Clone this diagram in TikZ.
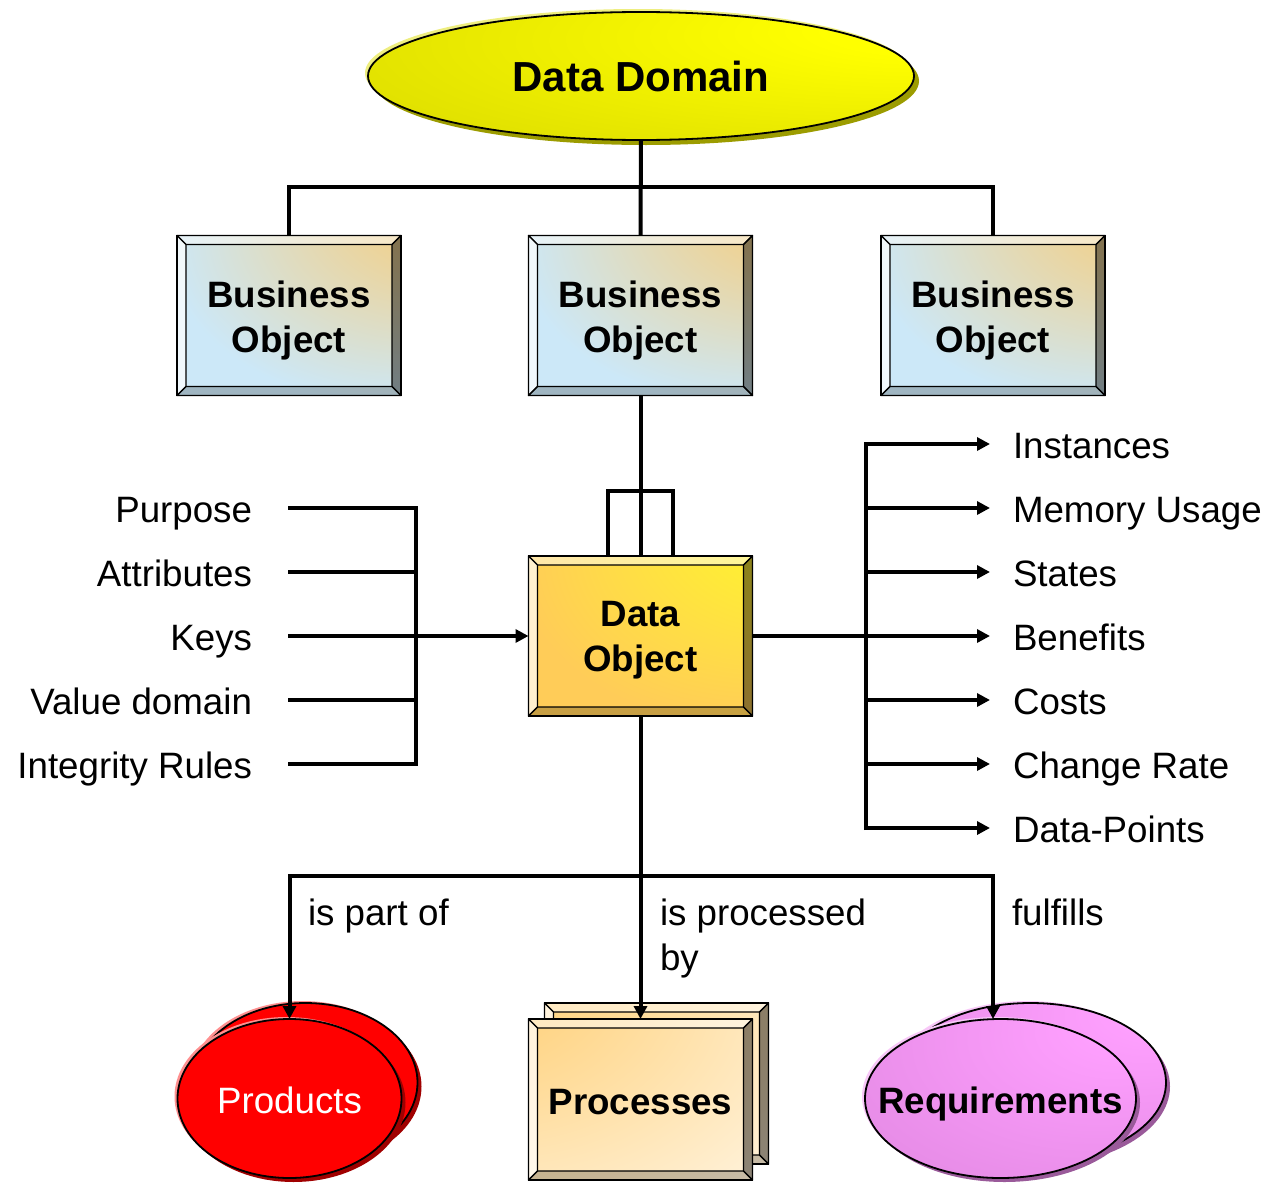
\documentclass[tikz,border=0pt]{standalone}
\usepackage{fontspec}
\setmainfont{Liberation Sans}
\usetikzlibrary{arrows.meta,shapes.geometric,shadows,calc}
\definecolor{boorange}{HTML}{FFC864}
\definecolor{boblue}{HTML}{CCE8F8}
\definecolor{doyellow}{HTML}{FFFF22}
\definecolor{doorange}{HTML}{FFCC58}
\definecolor{prorange}{HTML}{FFC860}
\definecolor{prwhite}{HTML}{FFFCF8}
\definecolor{ddbright}{HTML}{FFFF00}
\definecolor{dddark}{HTML}{C4C400}
\definecolor{ddsh}{HTML}{9C9C00}
\definecolor{ddhalo}{HTML}{EEEE80}
\definecolor{prodred}{HTML}{FF0000}
\definecolor{prodsh}{HTML}{A00000}
\definecolor{prodhalo}{HTML}{FF9090}
\definecolor{rqbright}{HTML}{FFA0FF}
\definecolor{rqdark}{HTML}{D880D8}
\definecolor{rqsh}{HTML}{9A5A9A}
\definecolor{rqhalo}{HTML}{F8C8F8}
\pgfdeclareradialshading{boshade}{\pgfpoint{45bp}{45bp}}{color(0bp)=(boorange); color(4bp)=(boorange); color(50bp)=(boblue); color(100bp)=(boblue)}
\pgfdeclareradialshading{doshade}{\pgfpoint{45bp}{45bp}}{color(0bp)=(doyellow); color(3bp)=(doyellow); color(50bp)=(doorange); color(100bp)=(doorange)}
\pgfdeclareradialshading{prshade}{\pgfpoint{-50bp}{50bp}}{color(0bp)=(prorange); color(4bp)=(prorange); color(90bp)=(prwhite); color(150bp)=(prwhite)}
\pgfdeclareradialshading{ddshade}{\pgfpoint{30bp}{20bp}}{color(0bp)=(ddbright); color(10bp)=(ddbright); color(80bp)=(dddark); color(100bp)=(dddark)}
\pgfdeclareradialshading{rqshade}{\pgfpoint{25bp}{25bp}}{color(0bp)=(rqbright); color(6bp)=(rqbright); color(70bp)=(rqdark); color(100bp)=(rqdark)}
\newcommand\rfont{\fontsize{36.7}{45}\selectfont}
\newcommand\bfont{\fontsize{36.7}{45}\selectfont\bfseries}
\newcommand\bevelit[1]{%
  \path[draw=black, line width=1.2pt, line join=round, fill=white, fill opacity=.5]
    (#1.north west) -- (#1.north east) -- ([shift={(-9pt,-9pt)}]#1.north east) -- ([shift={(9pt,-9pt)}]#1.north west) -- cycle;
  \path[draw=black, line width=1.2pt, line join=round, fill=white, fill opacity=.72]
    (#1.north west) -- ([shift={(9pt,-9pt)}]#1.north west) -- ([shift={(9pt,9pt)}]#1.south west) -- (#1.south west) -- cycle;
  \path[draw=black, line width=1.2pt, line join=round, fill=black, fill opacity=.45]
    (#1.north east) -- (#1.south east) -- ([shift={(-9pt,9pt)}]#1.south east) -- ([shift={(-9pt,-9pt)}]#1.north east) -- cycle;
  \path[draw=black, line width=1.2pt, line join=round, fill=black, fill opacity=.22]
    (#1.south west) -- (#1.south east) -- ([shift={(-9pt,9pt)}]#1.south east) -- ([shift={(9pt,9pt)}]#1.south west) -- cycle;
  \draw[line width=1.8pt] (#1.north west) rectangle (#1.south east);
}
\tikzset{
  bevbox/.style={rectangle, draw=black, line width=1.8pt, inner sep=0pt, outer sep=0pt,
    minimum width=224pt, minimum height=160pt, align=center, font=\bfont},
  bobox/.style={bevbox, shading=boshade},
  dobox/.style={bevbox, shading=doshade},
  prbox/.style={bevbox, shading=prshade},
  ddell/.style={ellipse, draw=black, line width=1.8pt, inner sep=0pt, outer sep=0pt,
    minimum width=546pt, minimum height=128pt, shading=ddshade, font=\fontsize{42}{50}\selectfont\bfseries,
    general shadow={shadow xshift=-3pt, shadow yshift=3pt, fill=ddhalo},
    general shadow={shadow xshift=5pt, shadow yshift=-5pt, fill=ddsh}},
  prodell/.style={ellipse, draw=black, line width=1.8pt, inner sep=0pt, outer sep=0pt,
    minimum width=224pt, minimum height=159pt, fill=prodred, text=white, font=\rfont,
    general shadow={shadow xshift=-3pt, shadow yshift=2pt, fill=prodhalo},
    general shadow={shadow xshift=4pt, shadow yshift=-4pt, fill=prodsh}},
  reqell/.style={ellipse, draw=black, line width=1.8pt, inner sep=0pt, outer sep=0pt,
    minimum width=271pt, minimum height=159pt, shading=rqshade, font=\bfont,
    general shadow={shadow xshift=-3pt, shadow yshift=2pt, fill=rqhalo},
    general shadow={shadow xshift=4pt, shadow yshift=-4pt, fill=rqsh}},
  lab/.style={inner sep=0pt, outer sep=0pt, font=\rfont},
  conn/.style={line width=4pt, line join=miter},
  arr/.style={-{Triangle[length=13pt,width=13pt]}}
}
\begin{document}
\begin{tikzpicture}[x=1pt,y=-1pt]
\useasboundingbox (0,0) rectangle (1270,1183);
% top ellipse
\node[ddell] (dd) at (641,76) {Data Domain};
% business objects
\node[bobox] (bo1) at (289,315.5) {\rule{0pt}{36.5pt}Business\\Object};
\bevelit{bo1}
\node[bobox] (bo2) at (640.5,315.5) {\rule{0pt}{36.5pt}Business\\Object};
\bevelit{bo2}
\node[bobox] (bo3) at (993,315.5) {\rule{0pt}{36.5pt}Business\\Object};
\bevelit{bo3}
% data object
\node[dobox] (do) at (640.5,636) {\rule{0pt}{34.5pt}Data\\Object};
\bevelit{do}
% bottom shapes
\node[prodell] (prodback) at (305.5,1082.5) {};
\node[prodell] (prod) at (289.5,1098.5) {\rule{0pt}{31pt}Products};
\node[prbox, minimum height=161pt] (procback) at (656.5,1083.5) {};
\bevelit{procback}
\node[prbox, minimum height=161pt] (proc) at (640.5,1099.5) {\rule{0pt}{30.5pt}Processes};
\bevelit{proc}
\node[reqell] (reqback) at (1030.5,1082.5) {};
\node[reqell] (req) at (1000.5,1098.5) {\makebox[0pt]{\rule{0pt}{38.5pt}Requirements}};
% coordinates
\coordinate (j1) at (640.5,187);
\coordinate (loopy) at (640.5,491);
\coordinate (j2) at (640.5,876);
\coordinate (j3) at (993,876);
\foreach \i/\y in {1/508,2/572,3/636,4/700,5/764}{
  \coordinate (l\i) at (288,\y);
  \coordinate (lb\i) at (416,\y);
}
\foreach \i/\y in {1/444,2/508,3/572,4/636,5/700,6/764,7/828}{
  \coordinate (rb\i) at (866,\y);
  \coordinate (ra\i) at (990,\y);
}
% connectors top
\draw[conn] (dd.south) -- (bo2.north);
\draw[conn] (bo1.north) |- (j1) -| (bo3.north);
\draw[conn] (bo2.south) -- (do.north);
\draw[conn] ([xshift=-33pt]do.north) |- (loopy) -| ([xshift=32.5pt]do.north);
% left
\draw[conn] (l1) -- (lb1) -- (lb5) -- (l5);
\draw[conn] (l2) -- (lb2);
\draw[conn] (l4) -- (lb4);
\draw[conn,arr] (l3) -- (do.west);
\node[lab, anchor=base east] (tpurp) at (252,522) {Purpose};
\node[lab, anchor=base east] (tattr) at (252,586) {Attributes};
\node[lab, anchor=base east] (tkeys) at (252,650) {Keys};
\node[lab, anchor=base east] (tval) at (252,714) {Value domain};
\node[lab, anchor=base east] (tint) at (252,778) {Integrity Rules};
% right
\draw[conn,arr] (do.east) -- (ra4);
\draw[conn,arr] ([yshift=-2pt]rb7) -- (rb1) -- (ra1);
\draw[conn,arr] ([xshift=-2pt]rb7) -- (ra7);
\foreach \i in {2,3,5,6}{ \draw[conn,arr] (rb\i) -- (ra\i); }
\node[lab, anchor=base west] (tinst) at (1013,458) {Instances};
\node[lab, anchor=base west] (tmem) at (1013,522) {Memory Usage};
\node[lab, anchor=base west] (tstat) at (1013,586) {States};
\node[lab, anchor=base west] (tben) at (1013,650) {Benefits};
\node[lab, anchor=base west] (tcost) at (1013,714) {Costs};
\node[lab, anchor=base west] (tchg) at (1013,778) {Change Rate};
\node[lab, anchor=base west] (tdp) at (1013,842) {Data-Points};
% bottom
\draw[conn,arr] (do.south) -- (proc.north);
\draw[conn,arr] (j2) -| (prod.north);
\draw[conn,arr] (j2) -- (j3) -- (j3 |- req.north);
\node[lab, anchor=base west] (tpart) at (308,925) {is part of};
\node[lab, anchor=north west, align=left] (tproc) at (660,899) {is processed\\by};
\node[lab, anchor=base west] (tful) at (1012,925) {fulfills};
\end{tikzpicture}
\end{document}
